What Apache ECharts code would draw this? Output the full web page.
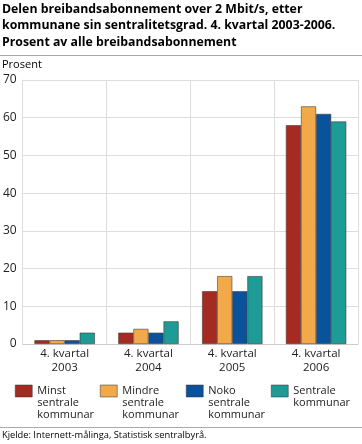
<!DOCTYPE html>
<html><head><meta charset="utf-8">
<script src="https://cdn.jsdelivr.net/npm/echarts@6/dist/echarts.min.js"></script>
<style>html,body{margin:0;padding:0;background:#fff}#c{width:362px;height:444px}</style>
</head><body><div id="c"></div>
<script>
const categories = ['4. kvartal\n2003','4. kvartal\n2004','4. kvartal\n2005','4. kvartal\n2006'];
const seriesNames = ['Minst\nsentrale\nkommunar','Mindre\nsentrale\nkommunar','Noko\nsentrale\nkommunar','Sentrale\nkommunar'];
const minst = [1, 3, 14, 58];
const mindre = [1, 4, 18, 63];
const noko = [1, 3, 14, 61];
const sentrale = [3, 6, 18, 59];
const yTicks = [0, 10, 20, 30, 40, 50, 60, 70];

const colors = ['#a52a22','#f2a94a','#0a529c','#1d9b97'];
const values = [minst, mindre, noko, sentrale];
const FONT = '"Open Sans", sans-serif';
const chart = echarts.init(document.getElementById('c'));
const legendX = [15, 100, 186, 271];
chart.setOption({
  animation: false,
  textStyle: {fontFamily: FONT},
  title: {
    text: 'Delen breibandsabonnement over 2 Mbit/s, etter\nkommunane sin sentralitetsgrad. 4. kvartal 2003-2006.\nProsent av alle breibandsabonnement',
    left: 2, top: 1, padding: 0,
    textStyle: {fontFamily: FONT, fontSize: 12.3, fontWeight: 'bold', color: '#000', lineHeight: 16.5}
  },
  graphic: [
    {type: 'line', shape: {x1: 0, y1: 55.5, x2: 362, y2: 55.5}, style: {stroke: '#aaa', lineWidth: 1}},
    {type: 'line', shape: {x1: 0, y1: 427.5, x2: 362, y2: 427.5}, style: {stroke: '#aaa', lineWidth: 1}},
    {type: 'text', left: 2, top: 431, style: {text: 'Kjelde: Internett-målinga, Statistisk sentralbyrå.', fontFamily: FONT, fontSize: 9.3, fill: '#000'}},
    {type: 'text', left: 2, top: 59, style: {text: 'Prosent', fontFamily: FONT, fontSize: 11, fill: '#000'}}
  ],
  legend: seriesNames.map((n, i) => {
    const nLines = n.split('\n').length;
    const pre = nLines - 1;
    return {
      left: legendX[i], top: 391 - (2 * pre + 1) * 6, padding: 0,
      itemWidth: 17, itemHeight: 12, itemGap: 0,
      icon: 'rect',
      data: [{name: n}],
      formatter: name => '\n'.repeat(pre) + name,
      textStyle: {fontFamily: FONT, fontSize: 11, color: '#222', lineHeight: 12},
      itemStyle: {borderColor: '#333', borderWidth: 0.5}
    };
  }),
  grid: {left: 22, right: 4, top: 80, bottom: 100},
  xAxis: {
    type: 'category', data: categories,
    axisLine: {show: true, lineStyle: {color: '#ccc'}},
    axisTick: {show: false},
    splitLine: {show: true, lineStyle: {color: '#ddd'}},
    axisLabel: {fontFamily: FONT, fontSize: 11.5, color: '#222', lineHeight: 14, margin: 3}
  },
  yAxis: {
    type: 'value', min: 0, max: 70, interval: 10,
    axisLine: {show: true, lineStyle: {color: '#ddd'}},
    axisTick: {show: false},
    splitLine: {lineStyle: {color: '#ddd'}},
    axisLabel: {fontFamily: FONT, fontSize: 12, color: '#222', margin: 6,
      formatter: v => yTicks.includes(v) ? String(v) : ''}
  },
  series: seriesNames.map((n, i) => ({
    name: n, type: 'bar', data: values[i],
    barGap: '0%', barCategoryGap: '28%',
    itemStyle: {color: colors[i], borderColor: '#4a3a30', borderWidth: 0.6}
  }))
});
</script></body></html>
